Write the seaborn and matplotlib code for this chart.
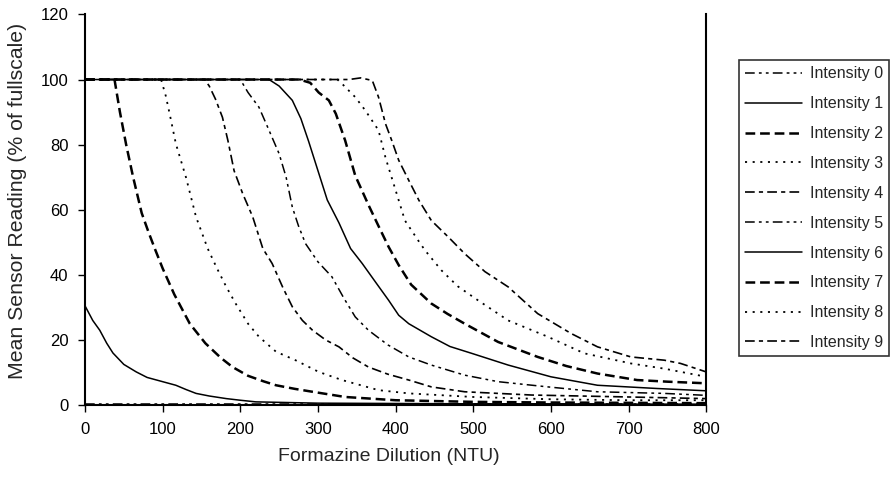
import pandas as pd
import matplotlib
matplotlib.use("Agg")
import matplotlib.pyplot as plt
import seaborn as sns

# Formazine dilution (NTU) vs mean sensor reading (% of fullscale)
x_i0 = [0, 100, 200, 300, 400, 500, 600, 700, 800]
y_i0 = [0.2, 0.2, 0.2, 0.2, 0.2, 0.2, 0.2, 0.2, 0.2]

x_i1 = [0, 10, 19, 28, 36, 50, 66, 80, 100, 117, 130, 143, 160, 182, 200, 220, 260, 300, 400, 500, 600, 700, 800]
y_i1 = [30.5, 26, 23, 19, 16, 12.5, 10.2, 8.5, 7.2, 6.1, 4.8, 3.6, 2.8, 2.0, 1.5, 1.0, 0.8, 0.6, 0.5, 0.4, 0.4, 0.3, 0.3]

x_i2 = [0, 38, 45, 53, 62, 73, 82, 90, 100, 115, 135, 155, 175, 190, 210, 230, 246, 270, 293, 335, 400, 500, 600, 700, 800]
y_i2 = [100, 100, 90, 80, 70, 59, 53, 48, 42, 34, 25, 19, 14.5, 11.7, 9, 7.3, 6.1, 5, 4.1, 2.5, 1.5, 1.0, 0.8, 0.7, 0.6]

x_i3 = [0, 98, 104, 109, 117, 130, 143, 158, 170, 182, 194, 210, 224, 246, 271, 301, 331, 378, 417, 500, 600, 700, 800]
y_i3 = [100, 100, 95, 89.5, 80.3, 70, 57.8, 48.1, 42, 36.3, 31.2, 25, 21, 16.4, 13.8, 10.2, 7.7, 4.6, 3.6, 2.5, 1.8, 1.5, 1.5]

x_i4 = [0, 154, 160, 168, 177, 184, 192, 203, 216, 229, 241, 255, 267, 280, 293, 310, 327, 345, 365, 390, 417, 446, 489, 575, 700, 800]
y_i4 = [100, 100, 98, 94, 88.4, 81.3, 72, 65, 57.8, 48.1, 43.5, 36, 30.2, 26, 23, 20, 17.9, 14.5, 11.7, 9.5, 7.7, 5.6, 4.1, 3.1, 2.5, 2.0]

x_i5 = [0, 200, 210, 224, 237, 250, 259, 267, 275, 284, 300, 318, 333, 348, 365, 390, 417, 446, 489, 532, 596, 660, 746, 800]
y_i5 = [100, 100, 96, 91.5, 84.4, 77.2, 70, 60.8, 55, 49.6, 44, 39.4, 33, 27.1, 23, 18.5, 14.8, 12.3, 9.2, 7.2, 5.6, 4.1, 3.6, 3.0]

x_i6 = [0, 237, 250, 267, 278, 288, 300, 312, 327, 342, 357, 375, 391, 404, 417, 446, 470, 498, 545, 600, 660, 737, 800]
y_i6 = [100, 100, 98, 93.6, 88, 81, 72, 63, 56, 48.1, 43.5, 37.5, 32.2, 27.6, 25, 21, 18, 15.9, 12.3, 8.7, 6.1, 5.1, 4.4]

x_i7 = [0, 276, 290, 301, 314, 323, 335, 348, 365, 378, 391, 404, 420, 446, 467, 489, 532, 583, 620, 660, 711, 750, 800]
y_i7 = [100, 100, 99, 96, 93.6, 89.5, 81.3, 70.5, 61.5, 55, 48.6, 43, 37, 31.2, 28, 25, 19.4, 14.8, 12, 9.7, 7.7, 7.2, 6.7]

x_i8 = [0, 325, 331, 348, 361, 378, 387, 400, 412, 429, 438, 459, 480, 506, 545, 596, 643, 703, 746, 800]
y_i8 = [100, 100, 98.7, 94.6, 90.5, 84.4, 76, 66, 56.7, 50.6, 47.5, 41.4, 36.5, 32.2, 26, 21, 15.9, 12.8, 11.2, 8.7]

x_i9 = [0, 340, 355, 370, 378, 387, 395, 404, 417, 430, 446, 468, 489, 515, 545, 583, 626, 660, 703, 746, 767, 800]
y_i9 = [100, 100, 100.5, 99.7, 94.6, 86.4, 81.3, 75.2, 69, 62.9, 56.7, 51.6, 46.5, 41, 36.3, 28.1, 22, 17.9, 14.8, 13.8, 12.8, 10.2]

labels = [f"Intensity {i}" for i in range(10)]
xs = [x_i0, x_i1, x_i2, x_i3, x_i4, x_i5, x_i6, x_i7, x_i8, x_i9]
ys = [y_i0, y_i1, y_i2, y_i3, y_i4, y_i5, y_i6, y_i7, y_i8, y_i9]

# line styles (in points, not scaled by linewidth)
dash_dot_dot = (0, (7, 3, 2, 3, 2, 3))
solid = "-"
dashed = (0, (7, 3.5))
dotted = (0, (1.5, 4))
dash_dot = (0, (7, 3, 3, 3))
styles = [dash_dot_dot, solid, dashed, dotted, dash_dot] * 2
widths = [1.1, 1.1, 1.8, 1.3, 1.2] * 2

sns.set_theme(style="ticks")
plt.rcParams["font.family"] = ["Liberation Sans", "DejaVu Sans"]
plt.rcParams["lines.scale_dashes"] = False

fig = plt.figure(figsize=(8.9, 4.8), dpi=100)
ax = fig.add_axes([0.0955, 0.156, 0.698, 0.814])

for x, y, lab, ls, lw in zip(xs, ys, labels, styles, widths):
    df = pd.DataFrame({"x": x, "y": y})
    sns.lineplot(data=df, x="x", y="y", ax=ax, color="black", linestyle=ls,
                 linewidth=lw, label=lab, estimator=None, sort=False)

ax.set_xlim(0, 800)
ax.set_ylim(0, 120)
ax.set_xticks(range(0, 801, 100))
ax.set_yticks(range(0, 121, 20))
ax.set_xlabel("Formazine Dilution (NTU)", fontsize=14)
ax.set_ylabel("Mean Sensor Reading (% of fullscale)", fontsize=15.3)
ax.xaxis.set_label_coords(0.489, -0.11)
ax.yaxis.set_label_coords(-0.093, 0.524)
ax.tick_params(axis="both", labelsize=12, length=5, width=1, color="black",
               labelcolor="black", direction="out", pad=7)

ax.spines["top"].set_visible(False)
for s in ["left", "bottom", "right"]:
    ax.spines[s].set_color("black")
    ax.spines[s].set_linewidth(1.5)

leg = ax.legend(loc="upper left", bbox_to_anchor=(0.830, 0.875),
                bbox_transform=fig.transFigure, borderaxespad=0,
                fontsize=11.5, handlelength=3.55, handletextpad=0.5,
                labelspacing=0.93, frameon=True, fancybox=False,
                borderpad=0.4)
leg.get_frame().set_edgecolor("black")
leg.get_frame().set_linewidth(1.2)

fig.savefig("out.png", dpi=100)
